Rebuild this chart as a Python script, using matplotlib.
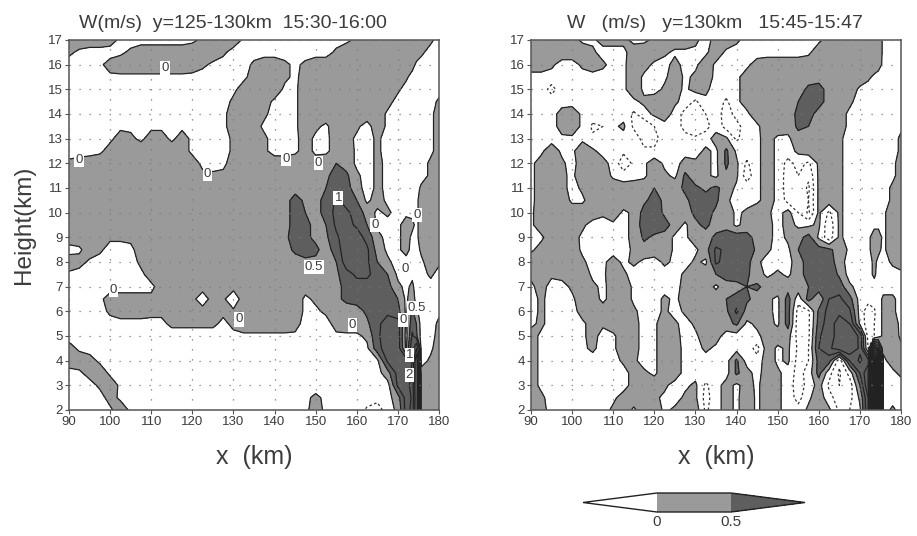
import numpy as np
import matplotlib
matplotlib.use("Agg")
import matplotlib.pyplot as plt
from matplotlib.colors import ListedColormap

plt.rcParams["font.family"] = ["Liberation Sans", "DejaVu Sans"]

GRAY = "#9a9a9a"
DARK = "#5e5e5e"
TXT = "#3c3c3c"

# x grid (km), denser near the narrow updraft at 174 km
X_KM = [90, 92.5, 95, 97.5, 100, 102.5, 105, 107.5, 110, 112.5,
        115, 117.5, 120, 122.5, 125, 127.5, 130, 132.5, 135, 137.5,
        140, 142.5, 145, 147.5, 150, 152.5, 155, 157.5, 160, 162.5,
        165, 167.5, 170, 172, 173.5, 174.5, 175.7, 178, 180]
# heights from 17 km down to 2 km
Z_KM = [17, 16.5, 16, 15.5, 15, 14.5, 14, 13.5, 13, 12.5, 12, 11.5, 11, 10.5, 10, 9.5,
        9, 8.5, 8, 7.5, 7, 6.5, 6, 5.5, 5, 4.5, 4, 3.5, 3, 2.5, 2]

# W in 0.1 m/s
W_LEFT = [
    [3,3,3,3,2,-1,-2,-2,-2,-2,  -2,-2,-1,1,3,3,3,-1,-2,-2,  -2,-2,-2,-2,-2,-2,-2,-1,1,3,  3,3,3,3,3,3,3,1,-2],
    [1,-1,-2,-2,-2,-1,1,3,3,3,  3,3,3,3,3,1,-2,-2,-2,-2,  -2,-2,-2,-2,-2,-2,1,3,3,3,  3,3,3,3,3,3,1,-2,-2],
    [-2,-2,-2,-1,2,3,3,3,3,3,  3,3,2,1,-1,-2,-2,-2,1,3,  3,1,-1,1,3,3,3,3,3,3,  3,3,3,3,2,-1,-2,-2,-2],
    [-2,-2,-2,-2,-1,-1,-1,-1,-1,-1,  -1,-1,-1,-2,-2,-2,-2,-1,2,3,  3,1,-1,2,3,3,3,3,3,3,  3,3,3,1,-2,-2,-2,-2,-2],
    [-2,-2,-2,-2,-2,-2,-2,-2,-2,-2,  -2,-2,-2,-2,-2,-2,-1,2,3,3,  3,-1,-1,3,3,3,3,3,3,3,  3,3,1,-2,-2,-2,-2,-2,-2],
    [-2,-2,-2,-2,-2,-2,-2,-2,-2,-2,  -2,-2,-2,-2,-2,-2,1,3,3,2,  -1,-2,-1,3,3,3,3,3,3,3,  3,2,-2,-2,-2,-2,-2,-2,1],
    [-2,-2,-2,-2,-2,-2,-2,-2,-2,-2,  -2,-2,-2,-2,-2,-1,2,3,2,1,  -2,-2,-1,3,3,3,3,3,3,3,  3,-1,-2,-2,-2,-2,-2,-1,2],
    [-2,-2,-2,-2,-2,-1,-1,-2,-1,-1,  -1,-1,-1,-2,-2,-1,2,3,2,-1,  -2,-2,-1,3,1,-1,3,3,1,-2,  3,-1,-2,-2,-2,-2,-2,-1,2],
    [-2,-2,-2,-1,-1,2,1,-1,2,2,  -1,2,-1,-2,-2,-2,1,3,3,1,  -2,-2,-1,2,-1,-1,2,2,-1,-2,  1,-2,-2,-2,-2,-2,-2,-1,2],
    [-2,-2,-2,-1,2,3,3,3,3,3,  3,2,-1,-2,-2,-2,1,3,2,1,  -2,-2,-1,2,-1,-1,2,3,-1,-2,  1,-2,-2,-2,-2,-2,-2,-1,2],
    [1,2,3,3,3,3,3,3,3,3,  3,3,2,-1,-2,-1,2,3,3,3,  3,3,3,3,2,3,5,3,-1,-2,  1,-1,-2,-2,-2,-2,-2,1,3],
    [3,3,3,3,3,3,3,3,3,3,  3,3,2,1,1,1,2,3,3,3,  3,3,3,3,3,4,7,6,1,-2,  1,-1,-2,-2,-2,-2,-2,1,3],
    [3,3,3,3,3,3,3,3,3,3,  3,3,3,3,3,3,3,3,3,3,  3,3,3,3,4,5,8,7,2,-2,  1,-1,-2,-2,-2,-2,1,2,3],
    [3,3,3,3,3,3,3,3,3,3,  3,3,3,3,3,3,3,3,3,3,  3,3,7,4,4,6,11,8,5,-1,  2,-1,-2,-2,-2,-1,2,3,3],
    [3,3,3,3,3,3,3,3,3,3,  3,3,3,3,3,3,3,3,3,3,  3,3,7,5,4,6,12,11,8,3,  -1,1,-2,-1,-1,-1,2,3,3],
    [3,3,3,3,2,2,3,3,3,3,  3,3,3,3,3,3,3,3,3,3,  3,3,7,6,4,5,11,12,9,5,  -1,-2,-1,2,1,-1,2,3,3],
    [3,3,3,2,1,1,1,2,3,3,  3,3,3,3,3,3,3,3,3,3,  3,4,7,6,4,4,9,13,13,8,  2,-2,-1,2,-1,-1,2,3,3],
    [-2,-1,3,1,-2,-2,-1,2,3,3,  3,3,3,3,3,3,3,3,3,3,  3,3,6,7,6,3,7,14,15,11,  3,-1,-1,2,-2,-2,1,3,3],
    [3,2,-1,-2,-2,-2,-2,1,3,3,  3,3,3,3,3,3,3,3,3,3,  3,3,3,4,4,3,5,13,14,11,  5,1,-2,-2,-2,-2,-1,3,1],
    [-1,-2,-2,-2,-2,-2,-2,-1,2,3,  3,3,3,3,3,3,3,3,3,3,  3,3,3,3,3,3,4,8,11,11,  8,5,-1,-2,-1,-2,-2,1,-2],
    [-2,-2,-2,-2,-2,-2,-2,-2,-1,2,  3,3,3,3,3,2,2,3,3,3,  3,3,3,2,3,3,4,6,8,8,  8,7,1,-1,1,-2,-2,-2,-2],
    [-2,-2,-2,-1,2,2,2,2,1,2,  3,3,2,-4,3,1,-4,3,3,3,  3,3,3,-1,1,2,4,6,7,7,  8,7,5,-1,3,-2,-2,-2,-2],
    [-2,-2,-2,-2,1,3,3,3,2,1,  3,3,3,3,3,1,1,3,3,3,  3,3,3,-1,-1,1,3,3,3,6,  8,9,7,-1,6,1,-2,-2,-1],
    [-2,-2,-2,-2,-2,-2,-2,-2,-2,-1,  1,1,1,1,1,-1,1,3,3,3,  3,3,2,-2,-2,-2,2,3,3,4,  9,12,12,-1,8,5,-2,-2,1],
    [-2,-2,-2,-2,-2,-2,-2,-2,-2,-2,  -2,-2,-2,-2,-2,-2,-1,-1,-1,-1,  -1,-1,-1,-2,-2,-2,-1,-1,-1,1,  9,13,13,-2,11,6,-2,-2,2],
    [2,-1,-2,-2,-2,-2,-2,-2,-2,-2,  -2,-2,-2,-2,-2,-2,-2,-2,-2,-2,  -2,-2,-2,-2,-2,-2,-2,-2,-2,-1,  8,13,13,-1,15,30,-2,-1,3],
    [3,3,2,-1,-2,-2,-2,-2,-2,-2,  -2,-2,-2,-2,-2,-2,-2,-2,-2,-2,  -2,-2,-2,-2,-2,-2,-2,-2,-2,-2,  -1,11,14,13,20,50,-2,1,3],
    [-2,-1,2,3,-1,-2,-2,-2,-2,-2,  -2,-2,-2,-2,-2,-2,-2,-2,-2,-2,  -2,-2,-2,-2,-2,-2,-2,-2,-2,-2,  -2,3,12,14,22,50,2,3,3],
    [-2,-2,-2,1,3,-1,-2,-2,-2,-2,  -2,-2,-2,-2,-2,-2,-2,-2,-2,-2,  -2,-2,-2,-2,-2,-2,-2,-2,-2,-2,  -2,-2,11,14,25,50,3,3,3],
    [-2,-2,-2,-2,2,-1,-2,-2,-2,-2,  -2,-2,-2,-2,-2,-2,-2,-2,-2,-2,  -2,-2,-2,-1,1,-1,-2,-2,-2,-2,  -3,-2,3,12,22,50,3,3,3],
    [-2,-2,-2,-2,-1,3,-1,-2,-2,-2,  -2,-2,-2,-2,-2,-2,-2,-2,-2,-2,  -2,-2,-2,-1,2,-1,-2,-2,-2,-6,  -8,-2,1,12,25,50,3,3,3],
]

# W in 0.1 m/s
W_RIGHT = [
    [3,3,3,3,2,-1,-1,2,2,1,  -1,-1,1,3,3,3,1,-2,2,3,  1,-2,-2,-2,-2,-2,-2,-2,-1,2,  3,3,3,3,3,3,-1,-2,-2],
    [3,3,3,3,3,3,1,-2,-2,-1,  2,3,3,1,-1,-1,-1,-1,3,-1,  -2,-2,-2,-2,-2,-2,-2,-1,3,3,  3,3,3,3,3,3,-1,-2,-2],
    [3,3,1,-2,-2,1,3,1,-2,-1,  3,2,-1,-2,2,-2,-1,3,-1,-2,  -2,-1,2,3,3,3,3,3,3,3,  3,3,3,3,3,2,-1,-2,-2],
    [-2,-2,-2,-2,-2,-2,-2,-2,-2,-1,  3,-1,-2,-1,3,-1,1,2,-1,-2,  -1,2,3,3,3,3,3,3,3,3,  3,3,3,1,-1,-2,-2,-2,-2],
    [-2,-2,-7,-2,-2,-2,-2,-2,-2,-1,  3,-1,-2,1,2,-1,2,1,-2,-2,  -1,2,3,3,3,3,3,6,7,3,  3,3,-1,-2,-2,-2,-2,-2,-2],
    [-2,-2,-2,-2,-2,-2,-2,-2,-2,-2,  -1,1,3,3,1,-2,-6,-1,-2,-6,  -1,2,3,3,3,4,5,8,7,3,  3,1,-2,-2,-2,-2,-2,-2,-1],
    [-2,-2,-2,2,3,-1,-2,-2,-2,-2,  -6,-2,1,3,-2,-7,-8,-5,-2,-8,  -3,-1,3,3,3,3,6,7,3,3,  2,-1,-2,-2,-2,-2,-2,-2,-1],
    [-2,-2,-2,2,3,-1,-6,-5,-1,1,  -6,-9,-5,-2,-2,-7,-9,-7,-2,-7,  -7,-2,-1,3,3,2,6,5,3,3,  2,-1,-2,-2,-2,-2,-2,-2,-1],
    [-2,-2,-2,-1,-1,-1,-4,-3,-2,-2,  -2,-7,-7,-2,-2,-3,-4,-2,2,1,  -6,-2,-1,2,-1,-1,3,3,3,3,  1,-2,-2,-2,-2,-2,-2,-2,1],
    [-2,-1,3,-1,-1,3,1,-2,-2,-4,  -2,-4,-4,-2,-2,-2,-2,1,-1,6,  -1,-2,-1,2,-1,-2,1,3,3,3,  1,-2,-2,-2,-2,-2,-2,-2,1],
    [-1,2,3,1,-2,3,3,2,-2,-8,  -4,-1,3,-1,-2,2,1,1,-1,6,  1,-6,-1,2,-1,-7,-3,-6,1,3,  1,-2,-2,-2,-2,-2,-2,-1,2],
    [-1,2,3,1,-1,3,3,3,-1,-3,  -2,-1,3,1,-1,6,2,1,-1,4,  1,-8,-1,2,-1,-8,-5,-9,1,3,  1,-2,-2,-2,-2,-2,-2,-1,2],
    [-1,2,3,2,-2,1,3,3,3,3,  3,3,5,3,3,6,6,4,6,3,  -1,-2,-1,2,-1,-8,-6,-11,1,3,  1,-2,-2,-2,-2,-2,-2,1,3],
    [-1,2,3,3,-1,-1,3,3,3,3,  3,4,7,4,3,4,7,7,6,1,  -2,-2,-1,2,-1,-7,-6,-10,1,3,  1,-2,-2,-2,-2,-2,-2,1,3],
    [-1,3,3,3,3,3,3,1,3,-1,  1,7,8,4,3,3,6,7,4,3,  -1,1,3,1,-2,2,-5,-11,1,-6,  1,-2,-2,-2,-2,-2,-1,3,3],
    [-1,3,3,3,3,1,-2,-2,-1,-1,  1,8,8,7,3,-1,4,6,3,3,  -1,2,3,2,-2,2,-1,-1,1,-9,  1,-2,-2,-2,-1,-1,-1,3,3],
    [-2,-1,3,3,2,-1,-2,-2,-2,-1,  1,6,4,3,-1,-1,3,3,6,8,  8,7,3,2,-2,1,3,7,-1,-8,  1,-2,-2,-1,2,2,-1,3,3],
    [-1,2,3,3,3,-1,-2,-2,-2,-2,  1,3,3,3,-1,-2,-1,3,11,9,  8,8,4,1,-2,-1,5,8,7,6,  3,-1,-2,-1,2,1,-1,3,3],
    [3,3,3,3,3,1,-2,-1,2,-1,  1,-1,-2,1,-1,-2,1,-1,11,8,  8,7,1,-2,-2,-2,3,7,8,8,  2,-2,-2,-2,1,-1,-2,1,2],
    [1,1,1,2,3,3,-1,-1,3,1,  -2,-2,-2,-2,-2,1,3,3,5,7,  8,6,2,-1,1,-1,3,7,9,9,  4,-2,-2,-2,1,-2,-2,-2,-1],
    [-1,2,-2,-2,1,3,1,-1,2,3,  -1,-2,-2,-2,-2,2,3,3,-1,3,  3,5,6,3,3,3,3,5,8,9,  8,1,-2,-2,-2,-2,-2,-2,-2],
    [-2,1,-2,-2,-1,3,2,-1,2,3,  -1,-2,-2,1,-1,2,3,3,3,5,  7,6,3,1,-1,7,-3,7,1,10,  11,7,-2,-3,-2,-2,1,1,-2],
    [-2,1,-2,-2,-2,2,3,2,3,3,  1,-2,-2,1,-2,1,3,3,3,4,  11,3,3,1,-1,7,-7,-6,6,12,  14,11,-2,-8,-6,-2,1,1,-2],
    [-1,1,-2,-2,-2,-1,2,1,3,3,  2,-2,-1,3,1,-2,1,3,3,3,  6,-1,1,2,-1,7,-8,-6,7,13,  17,15,-1,-8,-5,-2,1,2,-1],
    [2,-1,-2,-2,-2,-1,2,-2,-1,3,  2,-2,-1,3,2,-2,-1,3,2,-2,  -2,-2,-1,2,3,2,-7,-6,9,14,  16,19,14,-7,-5,-2,1,3,-1],
    [2,-1,-2,-2,-2,-1,1,-2,-1,3,  2,-2,-1,3,3,-2,-2,1,-1,-2,  -2,-2,-7,3,-1,1,-6,-5,10,14,  18,20,14,-5,30,20,1,3,1],
    [2,-1,-2,-2,-2,-2,-2,-2,-2,1,  1,-2,-1,3,3,-2,-2,-2,-1,-2,  6,-2,-3,3,-1,1,-7,-5,7,7,  -8,10,16,12,60,100,-1,2,2],
    [2,-1,-2,-2,-2,-2,-2,-2,-2,-2,  2,1,-1,3,3,-2,-2,-2,-2,-2,  6,2,-2,3,1,-2,-7,-3,7,-3,  -11,-3,10,20,60,100,-1,-1,1],
    [2,-1,-2,-2,-2,-2,-2,-2,-2,-2,  2,3,3,1,-2,-1,1,-6,-2,2,  -1,2,-1,3,1,-2,-8,-3,2,-6,  -10,-8,5,20,60,100,-2,-2,-2],
    [3,1,-2,-2,-2,-2,-2,-2,-1,2,  3,3,1,-1,-2,1,1,-7,-2,2,  -1,3,-1,3,1,-2,-7,-1,3,-3,  -8,-7,1,15,60,100,-1,-2,-2],
    [3,1,-1,-2,-2,-2,-2,-2,1,3,  -1,3,3,-1,1,3,3,-6,-2,2,  -1,3,-1,3,1,-2,-3,1,3,1,  -6,-5,-1,15,60,100,-2,1,-2],
]

# contour labels of the left panel: text, x, height
LABEL_TEXT = ["0", "0", "0", "0", "0", "0", "0", "0", "0", "0", "0", "0", "0.5", "0.5", "1", "1", "2"]
LABEL_X = [113.4, 92.4, 123.7, 142.8, 150.7, 164.4, 174.6, 171.75, 100.8, 131.4, 159, 171.2, 149.6, 174.6, 155.5, 172.8, 172.8]
LABEL_Z = [15.85, 12.14, 11.57, 12.17, 12, 9.5, 9.9, 7.71, 6.86, 5.67, 5.44, 5.65, 7.8, 6.15, 10.6, 4.23, 3.42]

TITLE_LEFT = "W(m/s)  y=125-130km  15:30-16:00"
TITLE_RIGHT = "W   (m/s)   y=130km   15:45-15:47"

LEVELS_LEFT = [0, 0.5, 1, 2, 3, 4, 5]
LEVELS_RIGHT = [0, 0.5, 1, 1.5, 2, 2.5, 3, 3.5, 4, 4.5, 5, 5.5, 6, 6.5, 7, 7.5, 8, 8.5, 9, 9.5]


def draw_panel(ax, w, solid_levels, dashed_levels):
    field = np.array(w, dtype=float) / 10.0
    cmap = ListedColormap([GRAY])
    cmap.set_under("white")
    cmap.set_over(DARK)
    cf = ax.contourf(X_KM, Z_KM, field, levels=[0, 0.5], cmap=cmap, extend="both")
    ax.contour(X_KM, Z_KM, field, levels=solid_levels, colors="#222222", linewidths=0.9)
    ax.contour(X_KM, Z_KM, field, levels=dashed_levels, colors="#333333",
               linewidths=0.9, linestyles=[(0, (2, 2))])
    ax.set_xlim(90, 180)
    ax.set_ylim(2, 17)
    ax.set_xticks(np.arange(90, 181, 10))
    ax.set_yticks(np.arange(2, 18))
    ax.grid(True, color="#777777", linestyle=(0, (1, 7)), linewidth=0.9)
    ax.set_axisbelow(False)
    ax.tick_params(labelsize=9.5, length=3, width=0.8, color="#555555",
                   labelcolor=TXT, pad=1.5)
    for side in ax.spines.values():
        side.set_color("#555555")
        side.set_linewidth(1.1)
    ax.set_xlabel("x  (km)", fontsize=18, color=TXT, labelpad=12)
    return cf


fig = plt.figure(figsize=(9.17, 5.36), dpi=100)
ax1 = fig.add_axes([69 / 917, 126 / 536, 370 / 917, 370 / 536])
ax2 = fig.add_axes([531 / 917, 126 / 536, 370 / 917, 370 / 536])

draw_panel(ax1, W_LEFT, LEVELS_LEFT, [-0.5])
cf2 = draw_panel(ax2, W_RIGHT, LEVELS_RIGHT, [-1, -0.5])

ax1.set_ylabel("Height(km)", fontsize=17.5, color=TXT, labelpad=9)
ax1.set_title(TITLE_LEFT, fontsize=14, color=TXT, pad=9, x=0.443)
ax2.set_title(TITLE_RIGHT, fontsize=14, color=TXT, pad=9, x=0.497)

for txt, lx, lz in zip(LABEL_TEXT, LABEL_X, LABEL_Z):
    ax1.text(lx, lz, txt, fontsize=9.5, color=TXT, ha="center", va="center", zorder=6,
             bbox=dict(facecolor="white", edgecolor="none", pad=0.8))

# colour key with pointed ends, the axes spans the tips as well
cax = fig.add_axes([583 / 917, (536 - 512) / 536, 222 / 917, 19 / 536])
cb = fig.colorbar(cf2, cax=cax, orientation="horizontal", extend="both",
                  extendfrac=1.0, ticks=[0, 0.5])
cb.ax.tick_params(labelsize=11, length=0, labelcolor=TXT, pad=2)
cb.ax.set_xticklabels(["0", "0.5"])
cb.outline.set_edgecolor("#222222")
cb.outline.set_linewidth(1)

fig.savefig("out.png", dpi=100)
